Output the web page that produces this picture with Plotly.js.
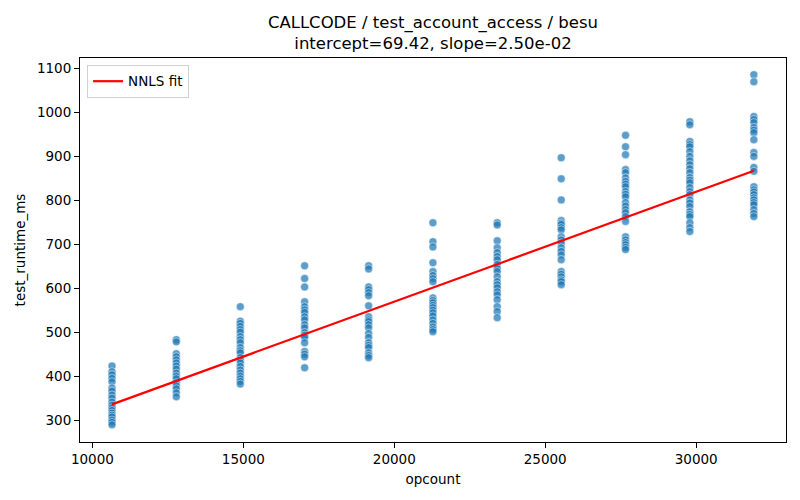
<!DOCTYPE html>
<html>
<head>
<meta charset="utf-8">
<script src="https://cdn.plot.ly/plotly-3.0.1.min.js"></script>
<style>
  html, body { margin: 0; padding: 0; background: #fff; }
  #chart { width: 800px; height: 500px; }
</style>
</head>
<body>
<div id="chart"></div>
<script>
// opcount positions (one column of runs per opcount)
const opcounts = [10650, 12780, 14900, 17030, 19150, 21280, 23410, 25530, 27660, 29790, 31910];

// test_runtime_ms per opcount column
const runtime10650 = [423, 410, 403, 395, 387, 373, 366, 357, 350, 341, 334, 328, 322, 316, 311, 307, 300, 295, 289];
const runtime12780 = [483, 478, 451, 444, 437, 430, 423, 416, 407, 400, 394, 385, 378, 371, 362, 353];
const runtime14900 = [558, 525, 520, 513, 506, 500, 490, 483, 476, 465, 458, 453, 442, 436, 430, 422, 414, 407, 400, 394, 388, 382];
const runtime17030 = [651, 622, 603, 569, 558, 551, 545, 535, 528, 517, 510, 499, 493, 488, 476, 456, 450, 444, 419];
const runtime19150 = [651, 644, 603, 597, 590, 583, 560, 535, 528, 524, 517, 510, 497, 488, 476, 470, 465, 453, 447, 442];
const runtime21280 = [749, 706, 694, 658, 638, 629, 622, 615, 578, 572, 567, 561, 556, 550, 544, 537, 528, 520, 512, 506, 501];
const runtime23410 = [749, 744, 708, 692, 681, 672, 665, 654, 645, 638, 626, 615, 608, 601, 592, 585, 574, 558, 547, 533];
const runtime25530 = [897, 849, 801, 754, 748, 745, 738, 733, 717, 710, 703, 692, 684, 676, 665, 638, 632, 626, 619, 615, 608];
const runtime27660 = [948, 922, 904, 870, 863, 851, 843, 837, 831, 820, 814, 808, 795, 787, 779, 772, 763, 752, 717, 710, 704, 699, 693, 688];
const runtime29790 = [979, 972, 934, 927, 922, 911, 900, 890, 881, 872, 863, 852, 846, 840, 829, 820, 813, 801, 794, 786, 774, 768, 763, 749, 738, 729];
const runtime31910 = [1086, 1070, 991, 984, 977, 966, 960, 954, 938, 909, 900, 875, 866, 831, 824, 819, 813, 806, 801, 795, 790, 779, 770, 763];

// NNLS fit line endpoints
const fitX = [10650, 31910];
const fitY = [335.7, 867.2];

const xTicks = [10000, 15000, 20000, 25000, 30000];
const yTicks = [300, 400, 500, 600, 700, 800, 900, 1000, 1100];

const columns = [runtime10650, runtime12780, runtime14900, runtime17030, runtime19150, runtime21280,
                 runtime23410, runtime25530, runtime27660, runtime29790, runtime31910];

const ptsX = [];
const ptsY = [];
columns.forEach((col, i) => {
  col.forEach(v => { ptsX.push(opcounts[i]); ptsY.push(v); });
});

const font = "DejaVu Sans, sans-serif";

const traces = [
  {
    type: "scatter",
    mode: "markers",
    x: ptsX,
    y: ptsY,
    showlegend: false,
    marker: {
      color: "rgba(31,119,180,0.72)",
      size: 8,
      line: { color: "rgba(255,255,255,0.8)", width: 0.6 },
    },
    hoverinfo: "x+y",
  },
  {
    type: "scatter",
    mode: "lines",
    x: fitX,
    y: fitY,
    name: "NNLS fit",
    line: { color: "#ff0000", width: 2.2 },
  },
];

const axisCommon = {
  showgrid: false,
  zeroline: false,
  showline: true,
  mirror: true,
  linecolor: "#000",
  linewidth: 1,
  ticks: "outside",
  ticklen: 5,
  tickwidth: 1,
  tickcolor: "#000",
  tickfont: { family: font, size: 13.5, color: "#000" },
};

const layout = {
  width: 800,
  height: 500,
  paper_bgcolor: "#fff",
  plot_bgcolor: "#fff",
  margin: { l: 80, r: 14, t: 58, b: 58 },
  font: { family: font, color: "#000" },
  title: {
    text: "CALLCODE / test_account_access / besu<br>intercept=69.42, slope=2.50e-02",
    font: { family: font, size: 16.5, color: "#000" },
    x: 0.5,
    xref: "paper",
    xanchor: "center",
    y: 0.945,
    yref: "container",
    yanchor: "top",
  },
  xaxis: Object.assign({}, axisCommon, {
    range: [9590, 32975],
    tickvals: xTicks,
    ticktext: xTicks.map(String),
    title: { text: "opcount", font: { family: font, size: 13.5, color: "#000" }, standoff: 8 },
  }),
  yaxis: Object.assign({}, axisCommon, {
    range: [250, 1124],
    tickvals: yTicks,
    ticktext: yTicks.map(String),
    title: { text: "test_runtime_ms", font: { family: font, size: 13.5, color: "#000" }, standoff: 8 },
  }),
  legend: {
    x: 0.01,
    y: 0.982,
    xanchor: "left",
    yanchor: "top",
    bgcolor: "rgba(255,255,255,0.8)",
    bordercolor: "#d0d0d0",
    borderwidth: 1,
    font: { family: font, size: 13.5, color: "#000" },
    itemwidth: 30,
  },
  showlegend: true,
};

Plotly.newPlot("chart", traces, layout, { displayModeBar: false, responsive: false });
</script>
</body>
</html>
